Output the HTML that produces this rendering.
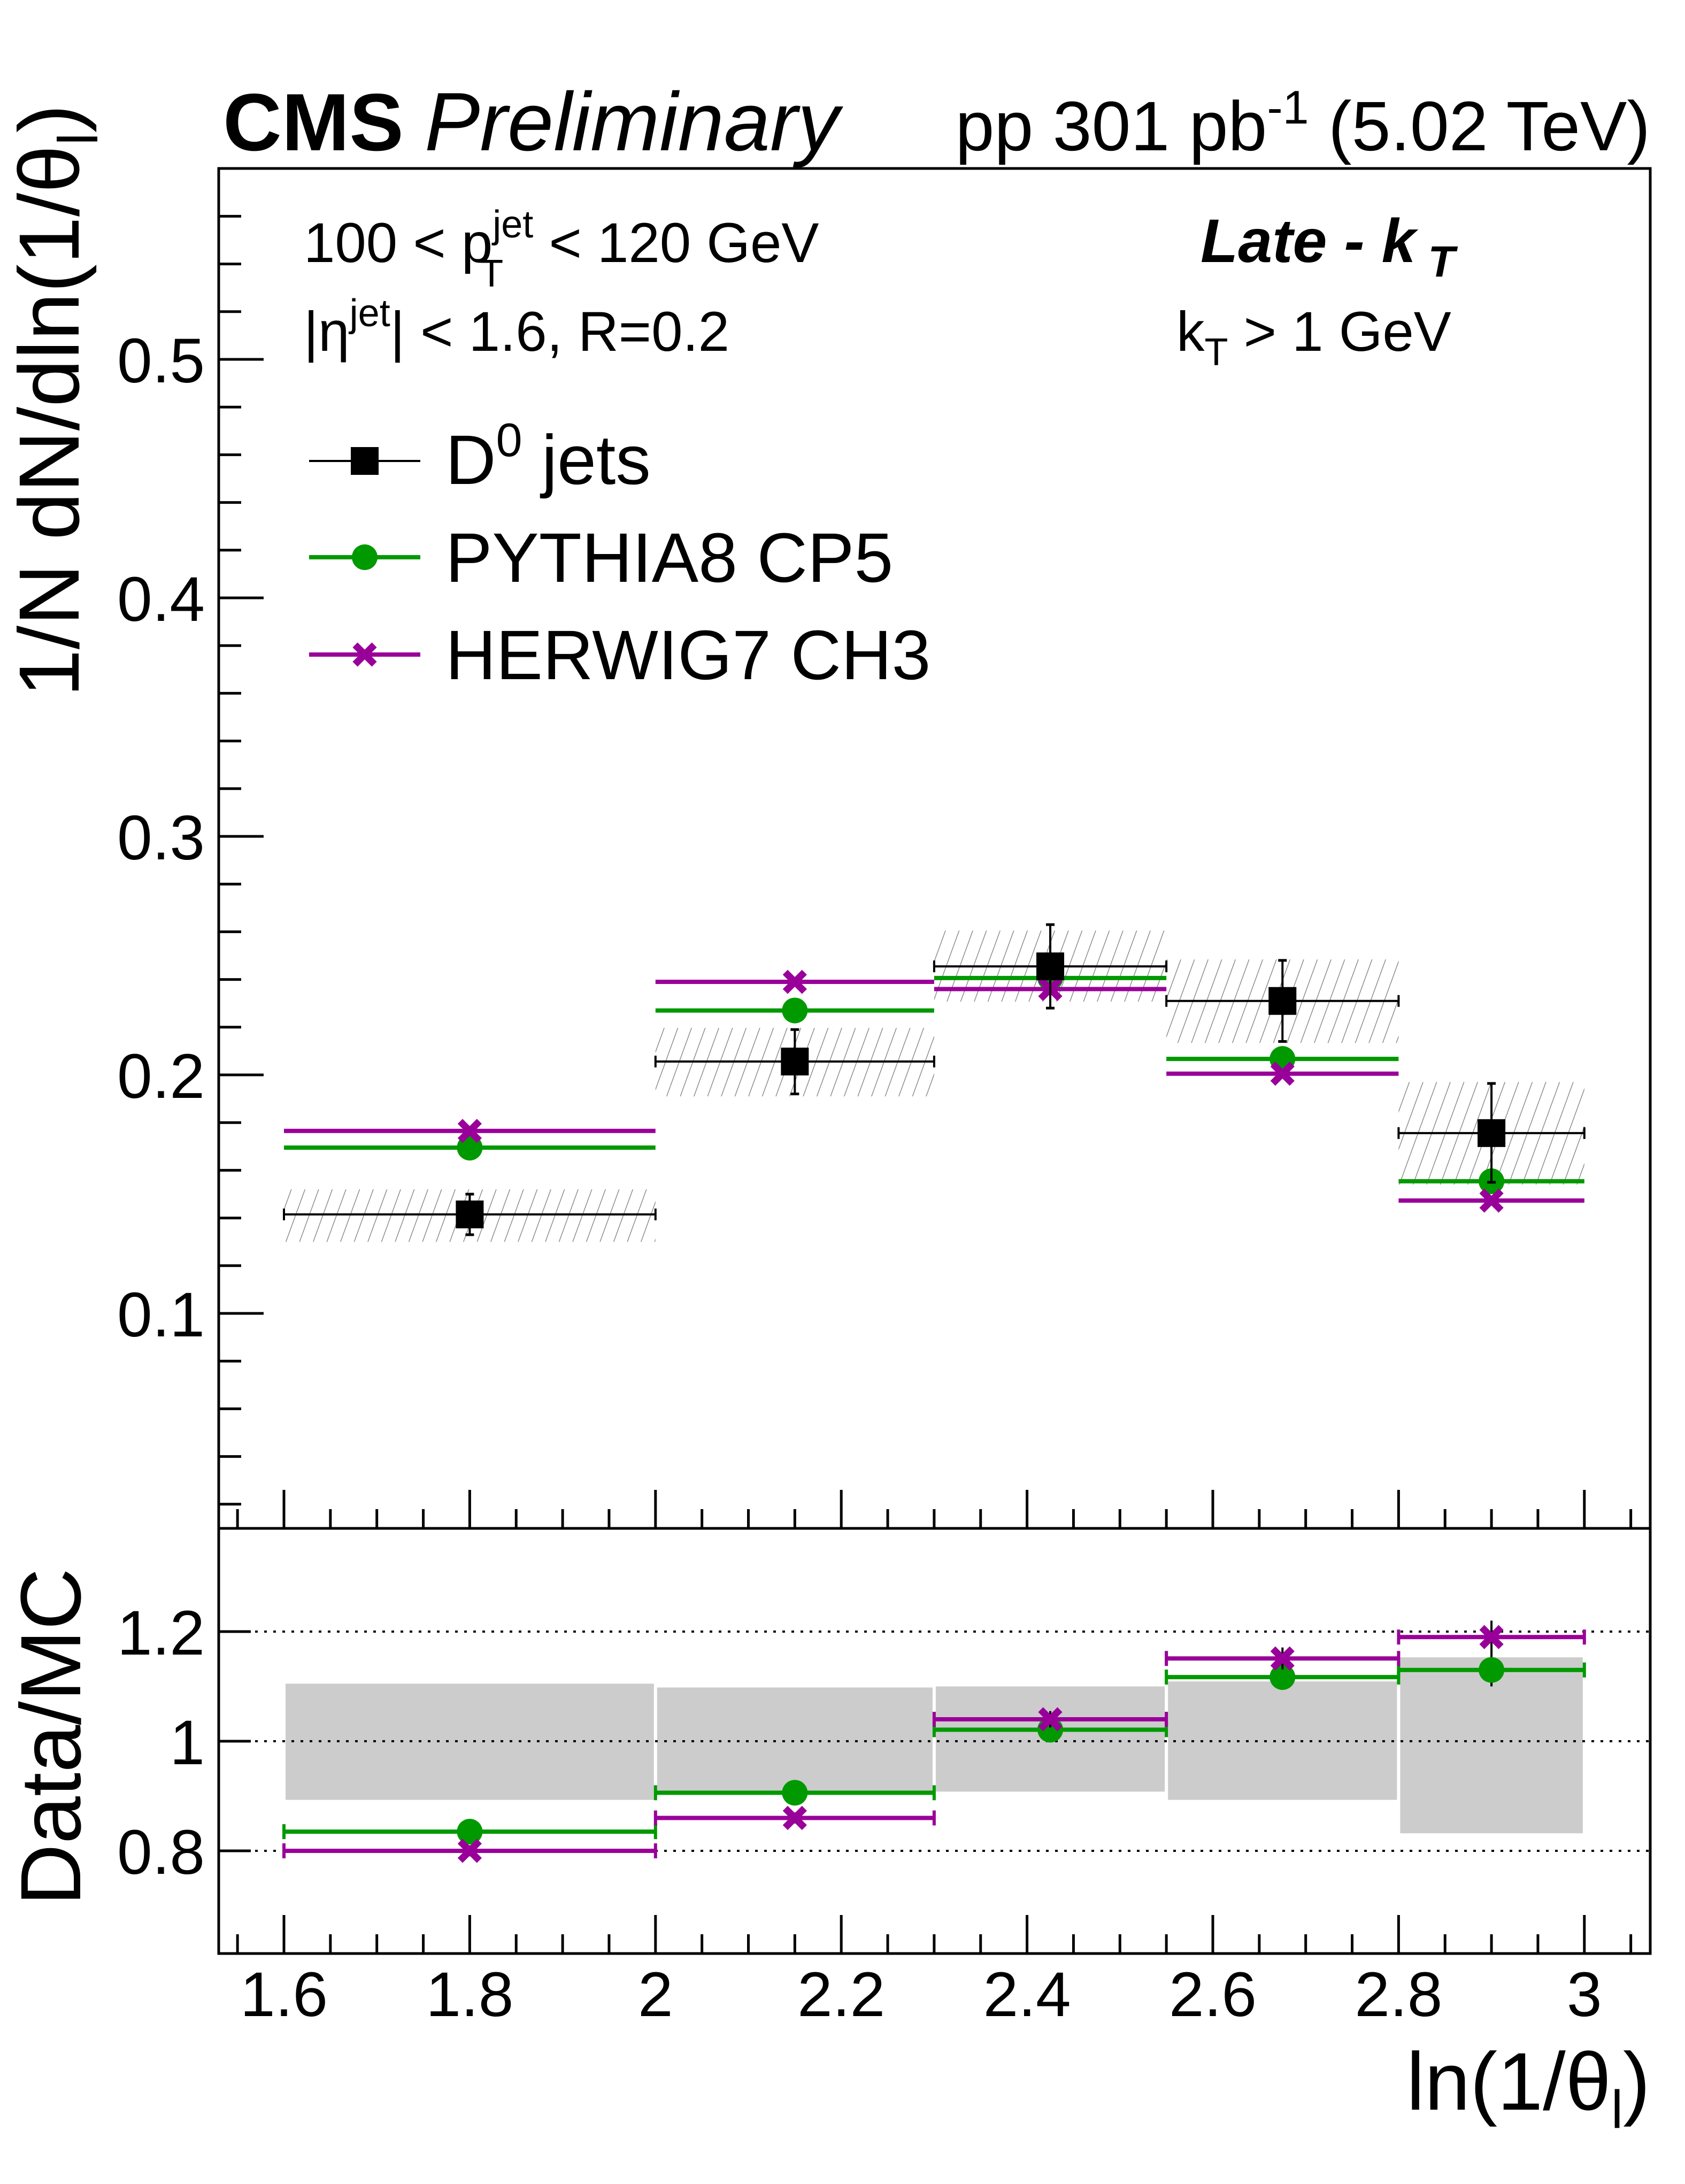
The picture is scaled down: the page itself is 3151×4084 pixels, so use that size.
<!DOCTYPE html>
<html><head><meta charset="utf-8"><style>
html,body{margin:0;padding:0;background:#fff;}
svg{display:block;font-family:"Liberation Sans",sans-serif;}
</style></head><body>
<svg id="chart" width="3151" height="4084" viewBox="0 0 3151 4084" xmlns="http://www.w3.org/2000/svg">
<defs>
<pattern id="hatch" patternUnits="userSpaceOnUse" width="24" height="24" patternTransform="rotate(20)">
<line x1="0" y1="0" x2="0" y2="24" stroke="#777" stroke-width="2.5"/>
</pattern>
</defs>
<g id="upper"></g>
<g id="lower"></g>
<g id="labels">
<text x="417" y="281" font-size="152" font-weight="bold">CMS</text>
<text x="794" y="281" font-size="155" font-style="italic">Preliminary</text>
<text x="3086" y="281" font-size="131" text-anchor="end">pp 301 pb<tspan dy="-50" font-size="88">-1</tspan><tspan dy="50"> (5.02 TeV)</tspan></text>
<text x="568" y="490" font-size="105">100 &lt; p<tspan dy="-46" font-size="72">jet</tspan><tspan dx="-100" dy="92" font-size="72">T</tspan><tspan dx="56" dy="-46"> &lt; 120 GeV</tspan></text>
<text x="568" y="656" font-size="105">|η<tspan dy="-46" font-size="72">jet</tspan><tspan dy="46">| &lt; 1.6, R=0.2</tspan></text>
<text x="2245" y="490" font-size="115" font-weight="bold" font-style="italic">Late - k<tspan dy="27" font-size="82"> T</tspan></text>
<text x="2200" y="656" font-size="105">k<tspan dy="27" font-size="72">T</tspan><tspan dy="-27"> &gt; 1 GeV</tspan></text>
<text transform="translate(147,195) rotate(-90)" font-size="160" text-anchor="end">1/N dN/dln(1/θ<tspan dy="35" font-size="105">l</tspan><tspan dy="-35">)</tspan></text>
<text transform="translate(150,3248) rotate(-90)" font-size="160" text-anchor="middle">Data/MC</text>
<text x="3086" y="3945" font-size="153" text-anchor="end">ln(1/θ<tspan dy="34" font-size="100">l</tspan><tspan dy="-34">)</tspan></text>
</g>
<g id="legend">
<g>
<line x1="578" y1="862" x2="786" y2="862" stroke="#000" stroke-width="4"/>
<rect x="656" y="836" width="52" height="52" fill="#000"/>
<text x="833" y="905" font-size="131">D<tspan dy="-52" font-size="88">0</tspan><tspan dy="52"> jets</tspan></text>
</g>
<g>
<line x1="578" y1="1042" x2="786" y2="1042" stroke="#009900" stroke-width="8"/>
<circle cx="682" cy="1042" r="24" fill="#009900"/>
<text x="833" y="1088" font-size="131">PYTHIA8 CP5</text>
</g>
<g>
<line x1="578" y1="1224" x2="786" y2="1224" stroke="#990099" stroke-width="8"/>
<path d="M664 1206 L700 1242 M700 1206 L664 1242" stroke="#990099" stroke-width="13"/>
<text x="833" y="1270" font-size="131">HERWIG7 CH3</text>
</g>
</g>
</svg>
<script>
const binLo = [1.6, 2.0, 2.3, 2.55, 2.8];
const binHi = [2.0, 2.3, 2.55, 2.8, 3.0];
const binCenter = [1.8, 2.15, 2.425, 2.675, 2.9];
const dataVal = [0.1415, 0.2056, 0.2455, 0.231, 0.1756];
const dataStatUp = [0.150, 0.219, 0.263, 0.248, 0.1964];
const dataStatDn = [0.133, 0.192, 0.228, 0.214, 0.155];
const dataSystUp = [0.152, 0.2197, 0.2605, 0.2484, 0.197];
const dataSystDn = [0.130, 0.191, 0.2307, 0.2134, 0.154];
const pythiaVal = [0.1695, 0.227, 0.2406, 0.2067, 0.1554];
const herwigVal = [0.1765, 0.239, 0.236, 0.2005, 0.1473];
const ratioPythia = [0.835, 0.906, 1.021, 1.117, 1.13];
const ratioHerwig = [0.80, 0.86, 1.04, 1.151, 1.19];
const ratioErr = [0.01, 0.01, 0.015, 0.02, 0.03];
const bandUp = [1.105, 1.098, 1.10, 1.109, 1.153];
const bandDn = [0.893, 0.906, 0.908, 0.893, 0.832];
const xTicks = [1.6, 1.8, 2.0, 2.2, 2.4, 2.6, 2.8, 3.0];
const xTickLabels = ["1.6", "1.8", "2", "2.2", "2.4", "2.6", "2.8", "3"];
const yTicks = [0.1, 0.2, 0.3, 0.4, 0.5];
const yTickLabels = ["0.1", "0.2", "0.3", "0.4", "0.5"];
const rTicks = [0.8, 1.0, 1.2];
const rTickLabels = ["0.8", "1", "1.2"];

const NS = "http://www.w3.org/2000/svg";
const L = 409, R = 3086, UT = 315, UB = 2858, LB = 3653;
const sx = v => 531 + (v - 1.6) * 1737;
const sy = v => 2456 - (v - 0.1) * 4460;
const sr = v => 3256 - (v - 1.0) * 1025;
function mk(parent, tag, attrs) {
  const e = document.createElementNS(NS, tag);
  for (const k in attrs) e.setAttribute(k, attrs[k]);
  parent.appendChild(e);
  return e;
}
const up = document.getElementById('upper');
const lo = document.getElementById('lower');

binLo.forEach((b, i) => {
  const r = mk(up, 'rect', {x: sx(b), y: sy(dataSystUp[i]), width: sx(binHi[i]) - sx(b), height: sy(dataSystDn[i]) - sy(dataSystUp[i]), fill: 'url(#hatch)'});
  
  
});
[[pythiaVal, '#009900', 'pythia'], [herwigVal, '#990099', 'herwig']].forEach(([vals, col, nm]) => {
  vals.forEach((v, i) => {
    const g = mk(up, 'g', {});
    
    
    mk(g, 'line', {x1: sx(binLo[i]), x2: sx(binHi[i]), y1: sy(v), y2: sy(v), stroke: col, 'stroke-width': 8});
    const cx = sx(binCenter[i]), cy = sy(v);
    if (nm === 'pythia') mk(g, 'circle', {cx: cx, cy: cy, r: 24, fill: col});
    else mk(g, 'path', {d: `M${cx-18} ${cy-18} L${cx+18} ${cy+18} M${cx+18} ${cy-18} L${cx-18} ${cy+18}`, stroke: col, 'stroke-width': 13});
  });
});
dataVal.forEach((v, i) => {
  const g = mk(up, 'g', {});
  
  
  const x1 = sx(binLo[i]), x2 = sx(binHi[i]), cx = sx(binCenter[i]), cy = sy(v);
  mk(g, 'line', {x1: x1, x2: x2, y1: cy, y2: cy, stroke: '#000', 'stroke-width': 4});
  mk(g, 'line', {x1: x1, x2: x1, y1: cy - 11, y2: cy + 11, stroke: '#000', 'stroke-width': 4});
  mk(g, 'line', {x1: x2, x2: x2, y1: cy - 11, y2: cy + 11, stroke: '#000', 'stroke-width': 4});
  mk(g, 'line', {x1: cx, x2: cx, y1: sy(dataStatUp[i]), y2: sy(dataStatDn[i]), stroke: '#000', 'stroke-width': 4});
  mk(g, 'line', {x1: cx - 8, x2: cx + 8, y1: sy(dataStatUp[i]), y2: sy(dataStatUp[i]), stroke: '#000', 'stroke-width': 5});
  mk(g, 'line', {x1: cx - 8, x2: cx + 8, y1: sy(dataStatDn[i]), y2: sy(dataStatDn[i]), stroke: '#000', 'stroke-width': 5});
  mk(g, 'rect', {x: cx - 26, y: cy - 26, width: 52, height: 52, fill: '#000'});
});
const uf = mk(up, 'rect', {x: L, y: UT, width: R - L, height: UB - UT, fill: 'none', stroke: '#000', 'stroke-width': 5});


for (let k = 0; k < 28; k++) {
  const v = 0.02 + k * 0.02;
  const y = sy(v);
  if (y < UT || y > UB) continue;
  const major = Math.abs(v * 10 - Math.round(v * 10)) < 1e-6;
  mk(up, 'line', {x1: L, x2: L + (major ? 84 : 42), y1: y, y2: y, stroke: '#000', 'stroke-width': 5});
}
yTicks.forEach((v, i) => {
  const t = mk(up, 'text', {x: 383, y: sy(v) + 43, 'font-size': 118, 'text-anchor': 'end'});
  t.textContent = yTickLabels[i];
  
  
});
function xTicksAt(parent, base) {
  for (let k = 0; k < 31; k++) {
    const v = 1.55 + k * 0.05;
    const x = sx(v);
    if (x < L || x > R) continue;
    const major = Math.abs(v * 5 - Math.round(v * 5)) < 1e-6;
    mk(parent, 'line', {x1: x, x2: x, y1: base, y2: base - (major ? 72 : 36), stroke: '#000', 'stroke-width': 5});
  }
}
xTicksAt(up, UB);

binLo.forEach((b, i) => {
  const r = mk(lo, 'rect', {x: sx(b) + 3, y: sr(bandUp[i]), width: sx(binHi[i]) - sx(b) - 6, height: sr(bandDn[i]) - sr(bandUp[i]), fill: '#cccccc'});
  
  
});
rTicks.forEach(v => {
  mk(lo, 'line', {x1: L, x2: R, y1: sr(v), y2: sr(v), stroke: '#000', 'stroke-width': 4, 'stroke-dasharray': '5 12'});
});
[[ratioPythia, '#009900', 'pythia'], [ratioHerwig, '#990099', 'herwig']].forEach(([vals, col, nm]) => {
  vals.forEach((v, i) => {
    const g = mk(lo, 'g', {});
    
    
    const x1 = sx(binLo[i]), x2 = sx(binHi[i]), cx = sx(binCenter[i]), cy = sr(v);
    mk(g, 'line', {x1: x1, x2: x2, y1: cy, y2: cy, stroke: col, 'stroke-width': 8});
    mk(g, 'line', {x1: x1, x2: x1, y1: cy - 14, y2: cy + 14, stroke: col, 'stroke-width': 6});
    mk(g, 'line', {x1: x2, x2: x2, y1: cy - 14, y2: cy + 14, stroke: col, 'stroke-width': 6});
    mk(g, 'line', {x1: cx, x2: cx, y1: sr(v + ratioErr[i]), y2: sr(v - ratioErr[i]), stroke: '#000', 'stroke-width': 4});
    if (nm === 'pythia') mk(g, 'circle', {cx: cx, cy: cy, r: 24, fill: col});
    else mk(g, 'path', {d: `M${cx-18} ${cy-18} L${cx+18} ${cy+18} M${cx+18} ${cy-18} L${cx-18} ${cy+18}`, stroke: col, 'stroke-width': 13});
  });
});
const lf = mk(lo, 'rect', {x: L, y: UB, width: R - L, height: LB - UB, fill: 'none', stroke: '#000', 'stroke-width': 5});


rTicks.forEach((v, i) => {
  mk(lo, 'line', {x1: L, x2: L + 60, y1: sr(v), y2: sr(v), stroke: '#000', 'stroke-width': 5});
  const t = mk(lo, 'text', {x: 383, y: sr(v) + 43, 'font-size': 118, 'text-anchor': 'end'});
  t.textContent = rTickLabels[i];
  
  
});
xTicksAt(lo, LB);
xTicks.forEach((v, i) => {
  const t = mk(lo, 'text', {x: sx(v), y: 3770, 'font-size': 118, 'text-anchor': 'middle'});
  t.textContent = xTickLabels[i];
  
  
});
</script>
</body></html>
